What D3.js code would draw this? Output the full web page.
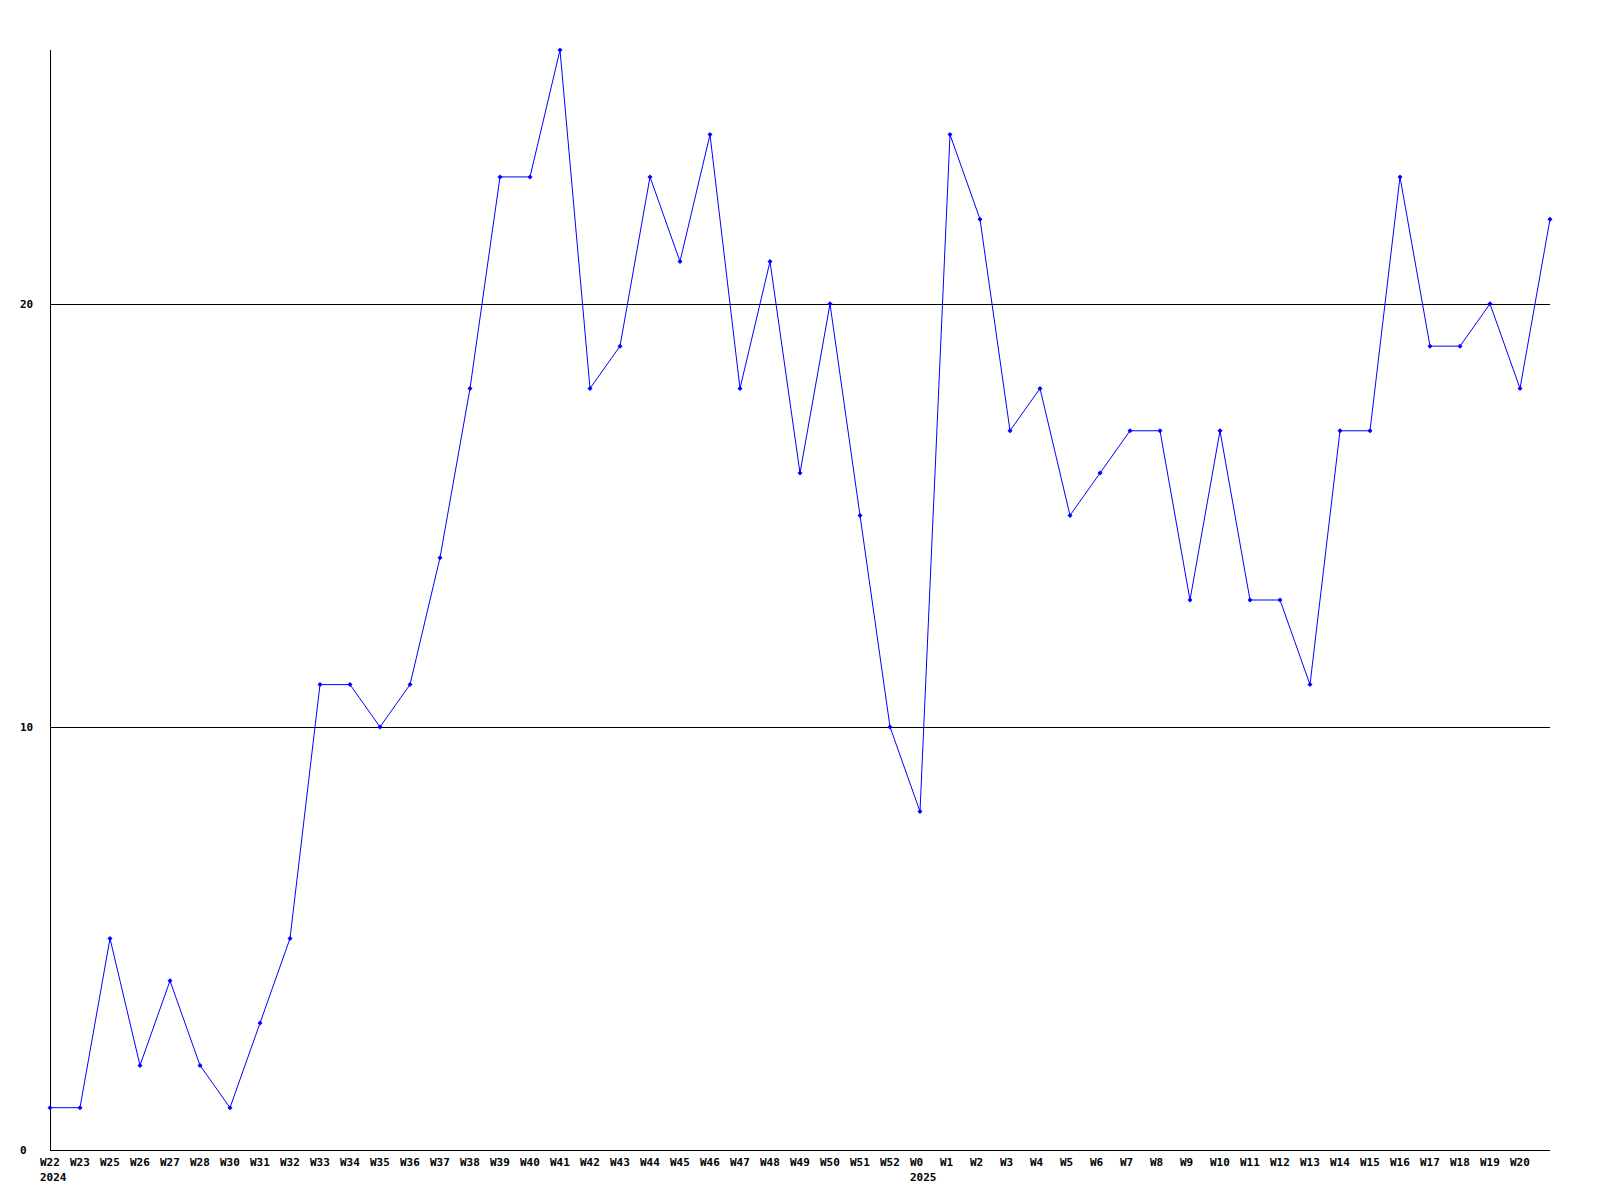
<!DOCTYPE html>
<html>
<head>
<meta charset="utf-8">
<script src="https://cdn.jsdelivr.net/npm/d3@7"></script>
<style>
html,body{margin:0;padding:0;background:#fff;}
text{font-family:"DejaVu Sans Mono",monospace;font-weight:bold;font-size:11px;fill:#000;}
</style>
</head>
<body>
<svg id="chart" width="1600" height="1200"></svg>
<script>
const weeks = ["W22","W23","W25","W26","W27","W28","W30","W31","W32","W33","W34","W35","W36","W37","W38","W39","W40","W41","W42","W43","W44","W45","W46","W47","W48","W49","W50","W51","W52","W0","W1","W2","W3","W4","W5","W6","W7","W8","W9","W10","W11","W12","W13","W14","W15","W16","W17","W18","W19","W20",""];
const values = [1,1,5,2,4,2,1,3,5,11,11,10,11,14,18,23,23,26,18,19,23,21,24,18,21,16,20,15,10,8,24,22,17,18,15,16,17,17,13,17,13,13,11,17,17,23,19,19,20,18,22];
const yearLabels = [{week:"W22", year:"2024"},{week:"W0", year:"2025"}];
const yTicks = [0,10,20];

const svg = d3.select("#chart");
const x = d3.scalePoint().domain(d3.range(weeks.length)).range([50,1550]);
const y = d3.scaleLinear().domain([0,26]).range([1150,50]);

// grid lines
svg.append("g").selectAll("line").data(yTicks.filter(d=>d>0)).join("line")
  .attr("x1",50).attr("x2",1550)
  .attr("y1",d=>Math.round(y(d))+0.5).attr("y2",d=>Math.round(y(d))+0.5)
  .attr("stroke","#000").attr("stroke-width",1).attr("shape-rendering","crispEdges");

// axes lines
svg.append("line").attr("x1",50.5).attr("x2",50.5).attr("y1",50).attr("y2",1150)
  .attr("stroke","#000").attr("shape-rendering","crispEdges");
svg.append("line").attr("x1",50).attr("x2",1550).attr("y1",1150.5).attr("y2",1150.5)
  .attr("stroke","#000").attr("shape-rendering","crispEdges");

// y labels
svg.append("g").selectAll("text").data(yTicks).join("text")
  .attr("x",20).attr("y",d=>y(d)+4).text(d=>d);

// x labels
svg.append("g").selectAll("text").data(weeks.map((w,i)=>({w,i})).filter(d=>d.w!=="")).join("text")
  .attr("x",d=>x(d.i)-10).attr("y",1166).text(d=>d.w);

svg.append("g").selectAll("text").data(yearLabels).join("text")
  .attr("x",d=>x(weeks.indexOf(d.week))-10).attr("y",1181).text(d=>d.year);

// line
const line = d3.line().x((d,i)=>x(i)).y(d=>y(d));
svg.append("path").datum(values).attr("d",line)
  .attr("fill","none").attr("stroke","#0000ff").attr("stroke-width",1);

// markers
svg.append("g").selectAll("path").data(values).join("path")
  .attr("d",(d,i)=>{const cx=x(i), cy=y(d); return `M${cx-2.5},${cy}L${cx},${cy-2.5}L${cx+2.5},${cy}L${cx},${cy+2.5}Z`;})
  .attr("fill","#0000ff");
</script>
</body>
</html>
